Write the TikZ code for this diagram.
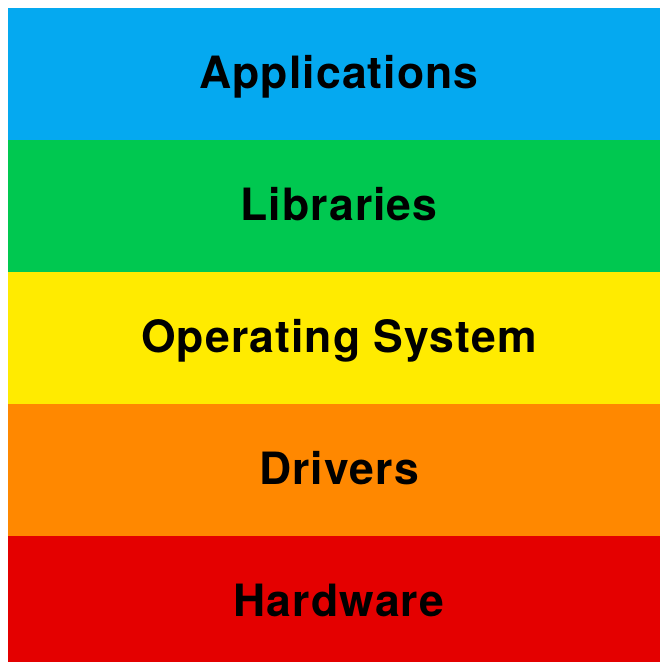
\documentclass[tikz,border=0pt]{standalone}
\usepackage{fontspec}
\usetikzlibrary{positioning}
\newfontfamily\layerfont{TeX Gyre Heros}[LetterSpace=2.5]

\definecolor{appblue}{HTML}{05A9F0}
\definecolor{libgreen}{HTML}{00C850}
\definecolor{osyellow}{HTML}{FFEB00}
\definecolor{drvorange}{HTML}{FF8800}
\definecolor{hwred}{HTML}{E40000}

\begin{document}
\begin{tikzpicture}[layer/.style={shape=rectangle, inner sep=0pt, outer sep=0pt,
              minimum width=662pt, minimum height=132pt, text height=34pt, text depth=6pt,
              font=\layerfont\bfseries\fontsize{44.5}{54}\selectfont, text=black}]
  \useasboundingbox (0,0) rectangle (660pt,-662pt);
  \node[layer, fill=appblue] (apps) at (339pt,-74pt) {Applications};
  \node[layer, fill=libgreen, below=0pt of apps] (libs) {Libraries};
  \node[layer, fill=osyellow, below=0pt of libs] (os) {Operating System};
  \node[layer, fill=drvorange, below=0pt of os] (drivers) {Drivers};
  \node[layer, fill=hwred, below=0pt of drivers] (hw) {Hardware};
\end{tikzpicture}
\end{document}
